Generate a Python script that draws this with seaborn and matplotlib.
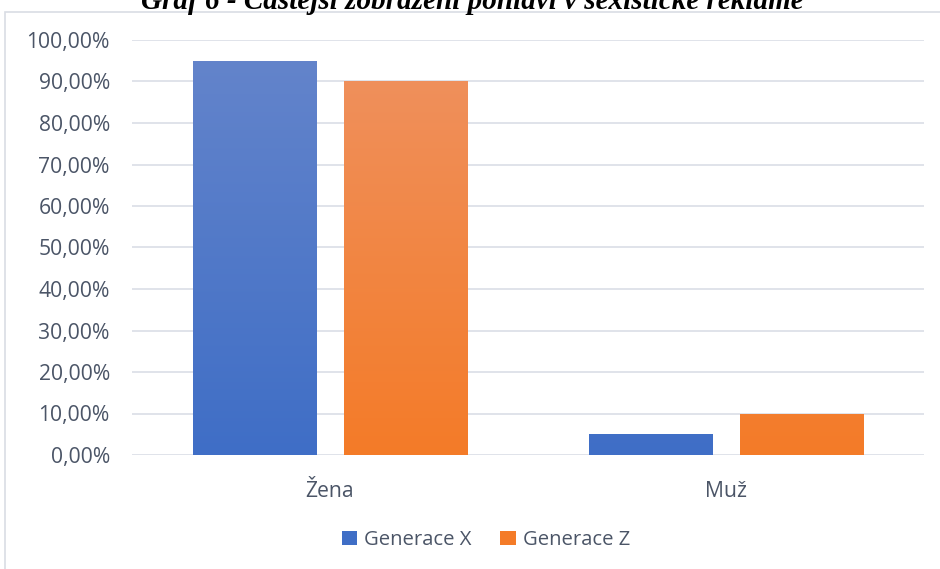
import numpy as np
import pandas as pd
import matplotlib
matplotlib.use("Agg")
import matplotlib.pyplot as plt
import seaborn as sns
from matplotlib.colors import LinearSegmentedColormap
from matplotlib.patches import Rectangle
from matplotlib.ticker import FuncFormatter

categories = ["Žena", "Muž"]
series_names = ["Generace X", "Generace Z"]
gen_x = [95.0, 5.0]
gen_z = [90.0, 10.0]
y_ticks = [0, 10, 20, 30, 40, 50, 60, 70, 80, 90, 100]

df = pd.DataFrame({
    "pohlavi": categories * 2,
    "generace": [series_names[0]] * len(categories) + [series_names[1]] * len(categories),
    "hodnota": gen_x + gen_z,
})

# bottom colour and lighter top colour of each series' gradient
base_colors = {"Generace X": "#3f6ec6", "Generace Z": "#f47b28"}
top_colors = {"Generace X": "#6585cb", "Generace Z": "#ef9261"}
text_color = "#4b5567"
grid_color = "#dde1e8"

sns.set_theme(style="white")
plt.rcParams["font.family"] = ["Open Sans", "DejaVu Sans"]

W, H = 940, 569
fig = plt.figure(figsize=(W / 100, H / 100), dpi=100)
ax = fig.add_axes([132 / W, 1 - 455 / H, (924 - 132) / W, (455 - 40) / H])

sns.barplot(data=df, x="pohlavi", y="hodnota", hue="generace",
            palette=base_colors, width=0.763, gap=0.185,
            order=categories, hue_order=series_names, ax=ax,
            legend=False, saturation=1, edgecolor="none")

ax.set_ylim(0, 100)
ax.set_xlim(-0.5, 1.5)
ax.set_yticks(y_ticks)
ax.yaxis.set_major_formatter(FuncFormatter(lambda v, p: f"{v:.2f}".replace(".", ",") + "%"))
ax.grid(axis="y", color=grid_color, linewidth=1.3)
ax.set_axisbelow(True)
for s in ax.spines.values():
    s.set_visible(False)
ax.set_xlabel("")
ax.set_ylabel("")
ax.tick_params(axis="both", length=0, labelsize=15.2, colors=text_color)
ax.tick_params(axis="y", pad=16)
ax.tick_params(axis="x", pad=19)

# vertical gradient fill inside each bar
for patch, name in zip(ax.patches, [series_names[0]] * 2 + [series_names[1]] * 2):
    x0, w = patch.get_x(), patch.get_width()
    cmap = LinearSegmentedColormap.from_list("g", [base_colors[name], top_colors[name]])
    im = ax.imshow(np.linspace(0, 1, 256).reshape(-1, 1), cmap=cmap, origin="lower",
                   extent=[x0, x0 + w, 0, 100], aspect="auto", vmin=0, vmax=1, zorder=2)
    im.set_clip_path(patch)
    patch.set_facecolor("none")
ax.set_xlim(-0.5, 1.5)
ax.set_ylim(0, 100)

# legend
handles = [Rectangle((0, 0), 1, 1, facecolor=base_colors[n], edgecolor="none") for n in series_names]
fig.legend(handles, series_names, loc="center", bbox_to_anchor=(486 / W, 1 - 540 / H),
           ncol=2, frameon=False, fontsize=14.6, labelcolor=text_color,
           handlelength=0.75, handleheight=0.75, handletextpad=0.35, columnspacing=1.4)

# chart frame
fig.patches.append(Rectangle((5 / W, -0.05), (W + 20) / W, 1 - 12 / H + 0.05,
                             transform=fig.transFigure, facecolor="none",
                             edgecolor="#d9dde4", linewidth=1.2, zorder=0))

# caption sitting above the chart
fig.text(472 / W, 1 - 9 / H, "Graf 6 - Častější zobrazení pohlaví v sexistické reklamě",
         ha="center", va="baseline", fontsize=21, fontweight="bold", fontstyle="italic",
         family="Liberation Serif", color="black")

fig.savefig("out.png", dpi=100)
